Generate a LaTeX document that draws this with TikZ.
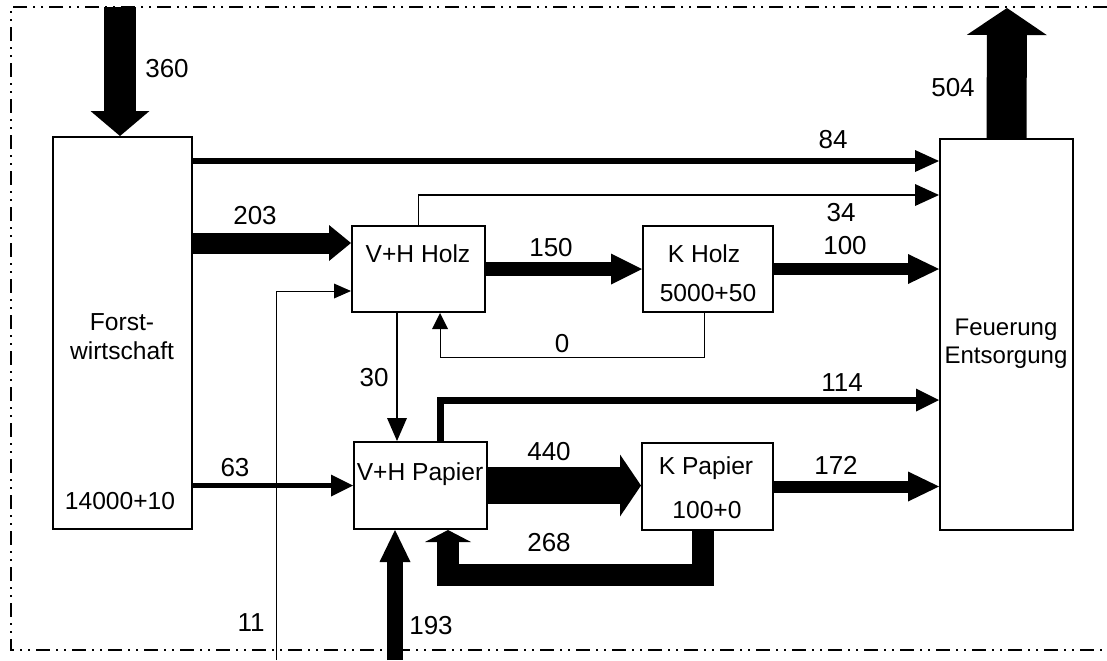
\documentclass[tikz,border=0pt]{standalone}
\usepackage{fontspec}
\setmainfont{Liberation Sans}
\usetikzlibrary{arrows.meta, calc}

\tikzset{
    box/.style={draw, line width=1pt, inner sep=0pt},
    boxtext/.style={font=\fontsize{12.3}{14.5}\selectfont},
    flow/.style n args={3}{line width=#1, -{Triangle[length=#2, width=#3, line width=0pt]}},
    frame/.style={line width=1pt, dash pattern=on 7pt off 3pt on 1pt off 3pt on 1pt off 3pt}
}

\begin{document}
\begin{tikzpicture}[x=0.5pt, y=-0.5pt, font=\fontsize{13}{15}\selectfont]
    \useasboundingbox (0,0) rectangle (1107,660);

    % Frame
    \draw[frame] (1107,7) -- (11,7) -- (11,650) -- (1107,650);

    % Boxes
    \node[box, minimum width=69.5pt, minimum height=196pt] (forst) at (122.5,333) {};
    \node[box, minimum width=66.5pt, minimum height=43pt] (vhholz) at (418.5,269) {};
    \node[box, minimum width=65pt, minimum height=43pt] (kholz) at (708,269) {};
    \node[box, minimum width=66.5pt, minimum height=43.5pt] (vhpapier) at (420.5,485.5) {};
    \node[box, minimum width=65.5pt, minimum height=43.5pt] (kpapier) at (707.5,486.5) {};
    \node[box, minimum width=66.5pt, minimum height=195.5pt] (feuer) at (1006.5,334.5) {};

    % Box texts
    \node[boxtext, align=center] at (122,337) {Forst-\\wirtschaft};
    \node[boxtext] at (120,501) {14000+10};
    \node[boxtext] at (418,254) {V+H Holz};
    \node[boxtext] at (704,254) {K Holz};
    \node[boxtext] at (708,293) {5000+50};
    \node[boxtext] at (420,474) {V+H Papier};
    \node[boxtext] at (706,468) {K Papier};
    \node[boxtext] at (707,510) {100+0};
    \node[align=center, font=\fontsize{12}{14}\selectfont] at (1006,344) {Feuerung\\Entsorgung};

    % Free ends
    \coordinate (in360) at (120,7);
    \coordinate (out504) at (1007,8);
    \coordinate (in11) at (276,660);
    \coordinate (in193) at (395,660);

    % Flows
    \draw[flow={16pt}{12.5pt}{29.5pt}] (in360) -- (forst.north -| in360);
    \draw[flow={20pt}{13.5pt}{40pt}] (feuer.north) -- (out504);
    \draw[flow={3pt}{12pt}{11pt}] (forst.east |- 0,161) -- (feuer.west |- 0,161);
    \draw[flow={10.5pt}{11pt}{18pt}] (forst.east |- 0,243) -- (vhholz.west |- 0,243);
    \draw[flow={0.8pt}{12pt}{11pt}] (vhholz.north) |- (feuer.west |- 0,195);
    \draw[flow={7pt}{15.5pt}{15.5pt}] (vhholz.east) -- (kholz.west);
    \draw[flow={6pt}{15.5pt}{15pt}] (kholz.east) -- (kholz.east -| feuer.west);
    \draw[flow={0.5pt}{8pt}{8pt}] (kholz.south -| 704,0) -- ++(0,44) -| (vhholz.south -| 440,0);
    \draw[flow={0.5pt}{8.5pt}{7.5pt}] (in11) |- (vhholz.west |- 0,291);
    \draw[flow={1pt}{11.5pt}{10pt}] (vhholz.south -| 397,0) -- (vhpapier.north -| 397,0);
    \draw[flow={2.2pt}{11pt}{11pt}] (forst.east |- vhpapier.west) -- (vhpapier.west);
    \draw[flow={3.5pt}{11.5pt}{11.5pt}] (vhpapier.north -| 440,0) |- (feuer.west |- 0,400);
    \draw[flow={18.5pt}{10.5pt}{31pt}] (vhpapier.east) -- (vhpapier.east -| kpapier.west);
    \draw[flow={6pt}{15.5pt}{15pt}] (kpapier.east) -- (kpapier.east -| feuer.west);
    \draw[flow={11pt}{6pt}{23pt}] (kpapier.south -| 703,0) -- ++(0,44) -| (vhpapier.south -| 448,0);
    \draw[flow={8pt}{16pt}{15.5pt}] (in193) -- (vhpapier.south -| in193);

    % Flow labels
    \node at (167,69) {360};
    \node at (953,88) {504};
    \node at (833,140) {84};
    \node at (255,216) {203};
    \node at (841,213) {34};
    \node at (551,248) {150};
    \node at (845,246) {100};
    \node at (562,344) {0};
    \node at (374,378) {30};
    \node at (842,383) {114};
    \node at (549,452) {440};
    \node at (836,465) {172};
    \node at (235,468) {63};
    \node at (549,543) {268};
    \node at (251,623) {11};
    \node at (431,626) {193};
\end{tikzpicture}
\end{document}
